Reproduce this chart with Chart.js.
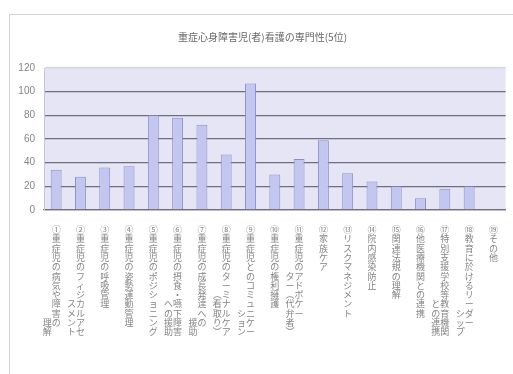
<!DOCTYPE html>
<html>
<head>
<meta charset="utf-8">
<script src="https://cdn.jsdelivr.net/npm/chart.js@4.4.0/dist/chart.umd.min.js"></script>
<style>
	html, body { margin: 0; padding: 0; background: #fff; overflow: hidden; }
	#wrap { position: relative; width: 513px; height: 374px; }
	#frame { position: absolute; left: 9px; top: 14px; width: 520px; height: 400px; border: 1.5px solid #d4d4d4; box-sizing: border-box; }
	#chart-senmonsei { position: absolute; left: 0; top: 0; }
</style>
</head>
<body>
<div id="wrap">
	<div id="frame"></div>
	<canvas id="chart-senmonsei" width="513" height="374"></canvas>
</div>
<script>
// data
var chartTitle = '重症心身障害児(者)看護の専門性(5位)';

var categories = [
	'①重症児の病気や障害の理解',
	'②重症児のフィジカルアセスメント',
	'③重症児の呼吸管理',
	'④重症児の姿勢運動管理',
	'⑤重症児のポジショニング',
	'⑥重症児の摂食・嚥下障害への援助',
	'⑦重症児の成長発達への援助',
	'⑧重症児のターミナルケア︵看取り︶',
	'⑨重症児とのコミュニケーション',
	'⑩重症児の権利擁護',
	'⑪重症児のアドボケーター︵代弁者︶',
	'⑫家族ケア',
	'⑬リスクマネジメント',
	'⑭院内感染防止',
	'⑮関連法規の理解',
	'⑯他医療機関との連携',
	'⑰特別支援学校等教育機関との連携',
	'⑱教育に於けるリーダーシップ',
	'⑲その他'
];

var values = [34, 28, 36, 37, 80, 78, 72, 47, 107, 30, 43, 59, 31, 24, 20, 10, 18, 20, 0];

var yTicks = [0, 20, 40, 60, 80, 100, 120];

// how the vertical labels wrap (chars in first column, row where 2nd column starts)
var wrapMain  = [11, 12, 0, 0, 0, 12, 11, 12, 12, 0, 10, 0, 0, 0, 0, 0, 12, 11, 0];
var wrapStart = [10, 8, 0, 0, 0, 8, 10, 7, 9, 0, 5, 0, 0, 0, 0, 0, 8, 9, 0];

function stackLabel(text, mainLen, overStart) {
	var chars = Array.from(text);
	if (!mainLen) return chars;
	var main = chars.slice(0, mainLen), over = chars.slice(mainLen);
	var rows = Math.max(main.length, overStart + over.length);
	var lines = [];
	for (var r = 0; r < rows; r++) {
		var m = main[r], o = over[r - overStart];
		if (!o) lines.push(m || '');
		else lines.push(o + (m || '\u3000') + '\u3000');
	}
	return lines;
}

var labels = categories.map(function(c, i) {
	return stackLabel(c, wrapMain[i], wrapStart[i]);
});

var fontCJK = "'Noto Sans CJK JP', 'Liberation Sans', sans-serif";

// plot area background
var plotBg = {
	id: 'plotBg',
	beforeDraw: function(chart) {
		var a = chart.chartArea, ctx = chart.ctx;
		ctx.save();
		ctx.fillStyle = '#e5e5f6';
		ctx.fillRect(a.left, a.top, a.right - a.left, a.bottom - a.top);
		ctx.restore();
	}
};

var configSenmonsei = {
	type: 'bar',
	data: {
		labels: labels,
		datasets: [{
			data: values,
			backgroundColor: '#c3c7f0',
			borderColor: '#8a8fcc',
			borderWidth: 1,
			barPercentage: 0.45,
			categoryPercentage: 1
		}]
	},
	options: {
		responsive: false,
		animation: false,
		layout: {
			padding: { left: 14, right: 2, top: 0, bottom: 0 }
		},
		plugins: {
			legend: { display: false },
			tooltip: { enabled: false },
			title: {
				display: true,
				text: chartTitle,
				color: '#6a6a6a',
				font: { family: fontCJK, size: 10, weight: 'normal', lineHeight: 1.2 },
				padding: { top: 31, bottom: 25 }
			}
		},
		scales: {
			x: {
				grid: { display: false, drawTicks: false },
				border: { display: true, color: '#707078', width: 1.3 },
				ticks: {
					autoSkip: false,
					maxRotation: 0,
					minRotation: 0,
					padding: 15,
					color: '#858585',
					font: { family: fontCJK, size: 9, lineHeight: '9.3px' }
				},
				afterFit: function(scale) {
					scale.height = 164;
				}
			},
			y: {
				min: 0,
				max: 120,
				afterBuildTicks: function(scale) {
					scale.ticks = yTicks.map(function(v) { return { value: v }; });
				},
				grid: {
					drawTicks: false,
					color: function(ctx) {
						return ctx.tick && ctx.tick.value === 120 ? '#cfd0e6' : '#6e6e7c';
					},
					lineWidth: 1.3
				},
				border: { display: true, color: '#c4c5dc', width: 1 },
				ticks: {
					padding: 9,
					color: '#858585',
					font: { family: "'Liberation Sans', Arial, sans-serif", size: 10 }
				},
				afterFit: function(scale) {
					scale.width = 30;
				}
			}
		}
	},
	plugins: [plotBg]
};

var ctx = document.getElementById('chart-senmonsei').getContext('2d');
var chartSenmonsei = new Chart(ctx, configSenmonsei);
</script>
</body>
</html>
